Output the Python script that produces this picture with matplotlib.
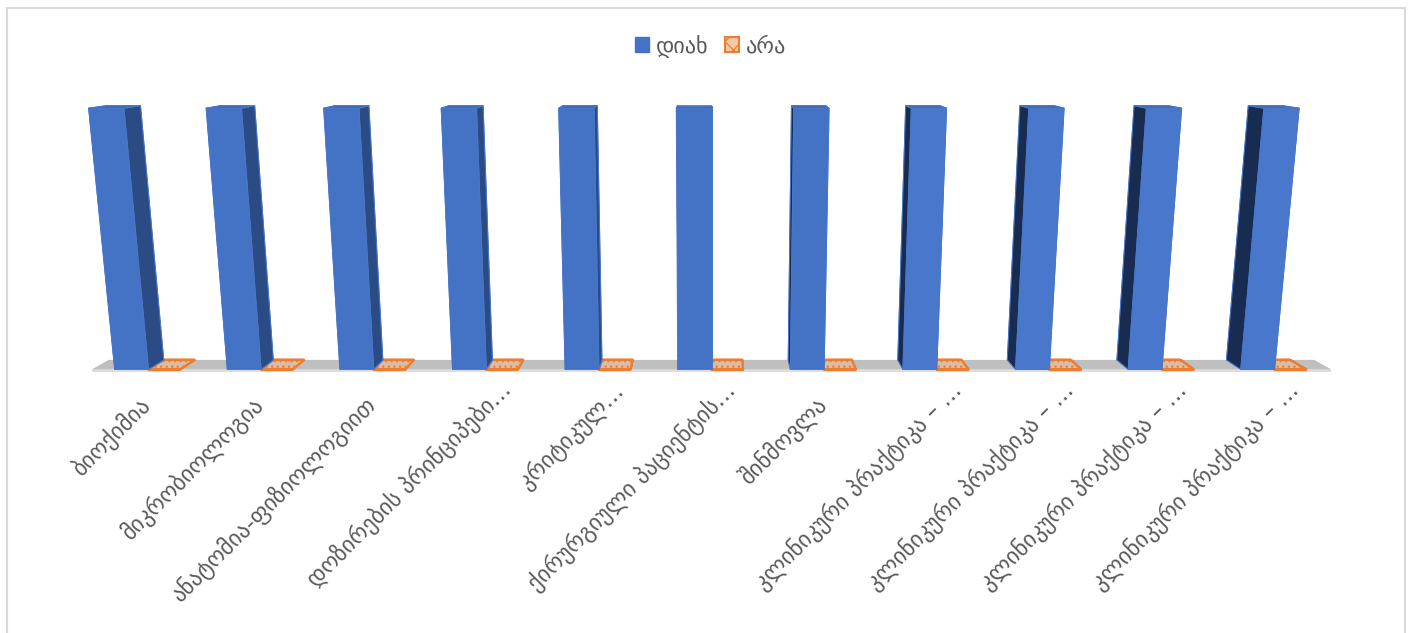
import matplotlib
matplotlib.use("Agg")
import matplotlib.pyplot as plt
from matplotlib.patches import Patch, Rectangle
from mpl_toolkits.mplot3d import proj3d

categories = [
    "ბიოქიმია",
    "მიკრობიოლოგია",
    "ანატომია-ფიზიოლოგიით",
    "დოზირების პრინციპები…",
    "კრიტიკულ…",
    "ქირურგიული პაციენტის…",
    "შინმოვლა",
    "კლინიკური პრაქტიკა – …",
    "კლინიკური პრაქტიკა – …",
    "კლინიკური პრაქტიკა – …",
    "კლინიკური პრაქტიკა – …",
]
yes_values = [100, 100, 100, 100, 100, 100, 100, 100, 100, 100, 100]
no_values = [0, 0, 0, 0, 0, 0, 0, 0, 0, 0, 0]
series_names = ["დიახ", "არა"]

W, H = 1413, 633
BLUE = "#4472C4"
BLUE_LIGHT = "#4977CB"
ORANGE = "#ED7D31"
TEXT = "#595959"

plt.rcParams["hatch.color"] = "#C8662A"
plt.rcParams["hatch.linewidth"] = 0.9

fig = plt.figure(figsize=(W / 100, H / 100), dpi=100)

# square 3d panel, bigger than the figure, so the camera sits on the floor centre
size = 1228
cx, cy = 711.5, 394.5
left = cx - 0.5135 * size
bottom = cy - 0.5135 * size
ax = fig.add_axes([left / W, bottom / H, size / W, size / H], projection="3d", computed_zorder=False)
ax.patch.set_alpha(0)
ax.set_proj_type("persp", focal_length=0.174)
ax.view_init(elev=10.7, azim=-90)

n = len(categories)
bar_w = 0.30
no_w = 0.28

# floor
ax.bar3d(0, 0, -1, n, 1, 1, shade=False, zorder=1,
         color=["#D9D9D9", "#BFBFBF", "#DDDDDD", "#BFBFBF", "#C4C4C4", "#C4C4C4"])

for i in range(n):
    mid = i + 0.5
    ax.bar3d(mid, 0, 0, no_w, 1, no_values[i] + 0.01, shade=False, zorder=2,
             color="#D9BDA6", edgecolor=ORANGE, linewidth=1.6, hatch="...")
for i in range(n):
    mid = i + 0.5
    front = BLUE_LIGHT if i >= 7 else BLUE
    ax.bar3d(mid - bar_w, 0, 0, bar_w, 1, yes_values[i], shade=False, zorder=3,
             color=[BLUE, "#3F69B5", front, "#2F528F", "#182C52", "#2B4B85"],
             edgecolor="#4A78C8", linewidth=0.7)

# the panel is narrower than the floor, do not cut at its edge
for coll in ax.collections:
    coll.set_clip_on(False)

ax.set_xlim(0, n, view_margin=0)
ax.set_ylim(0, 1, view_margin=0)
ax.set_zlim(0, 100, view_margin=0)
ax.set_box_aspect((4.735, 0.125, 0.995), zoom=1.008)
ax.set_axis_off()

# category labels hang from the front floor edge, cut ones reach further up
fig.canvas.draw()
for i, label in enumerate(categories):
    px, py, _ = proj3d.proj_transform(i + 0.5, 0, 0, ax.get_proj())
    offset = (9, -6) if label.endswith("…") else (-7.5, -16)
    ax.annotate(label, xy=(px, py), xycoords="data", xytext=offset, textcoords="offset points",
                rotation=45, rotation_mode="anchor", ha="right", va="top",
                fontsize=16.3, color=TEXT, annotation_clip=False)

handles = [Patch(facecolor=BLUE, edgecolor=BLUE, label=series_names[0]),
           Patch(facecolor="#F6C9A8", edgecolor=ORANGE, linewidth=1.5, hatch="xx", label=series_names[1])]
fig.legend(handles=handles, loc="center", bbox_to_anchor=(710.5 / W, 1 - 46 / H), ncol=2, frameon=False,
           fontsize=16, labelcolor=TEXT, handlelength=0.65, handleheight=0.65,
           handletextpad=0.3, columnspacing=0.75)

# chart frame
fig.patches.append(Rectangle((7 / W, -0.05), 1398 / W, 1.05 - 8 / H, transform=fig.transFigure,
                             fill=False, edgecolor="#D9D9D9", linewidth=1.5, figure=fig))

fig.savefig("out.png", dpi=100)
